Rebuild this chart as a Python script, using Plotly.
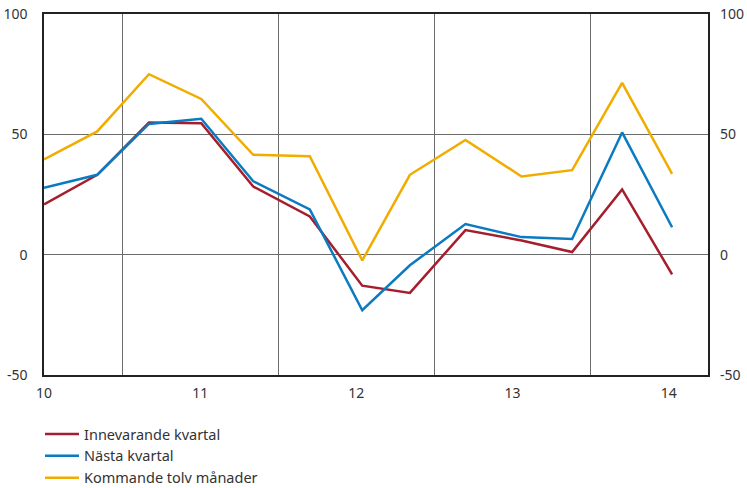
import plotly.graph_objects as go

# Survey dates as fractional years (10 = start of 2010), roughly every four months
periods = [10.0, 10.341, 10.672, 11.007, 11.340, 11.702, 12.038,
           12.343, 12.699, 13.058, 13.382, 13.702, 14.022]
year_ticks = [10, 11, 12, 13, 14]
year_labels = ["10", "11", "12", "13", "14"]
year_bounds = [10.5, 11.5, 12.5, 13.5]
value_ticks = [-50, 0, 50, 100]
value_labels = ["-50", "0", "50", "100"]

innevarande = [20.9, 33.2, 54.9, 54.6, 28.3, 15.9, -12.9, -15.9, 10.2, 5.9, 1.1, 27.1, -8.2]
nasta = [27.8, 33.2, 54.3, 56.5, 30.5, 18.8, -23.1, -4.4, 12.7, 7.3, 6.5, 50.8, 11.4]
kommande = [39.6, 51.2, 75.0, 64.7, 41.5, 40.9, -2.4, 33.2, 47.7, 32.5, 35.1, 71.4, 33.6]

series = [
    ("Innevarande kvartal", innevarande, "#a51e2d"),
    ("Nästa kvartal", nasta, "#0a7bc1"),
    ("Kommande tolv månader", kommande, "#f0ad00"),
]

y_range = [-50, 100]
x_range = [10, 14.252]

fig = go.Figure()
for name, values, color in series:
    fig.add_trace(go.Scatter(
        x=periods, y=values, name=name, mode="lines",
        line=dict(color=color, width=2.5),
    ))

# invisible trace so the right-hand axis is drawn
fig.add_trace(go.Scatter(
    x=periods, y=kommande, yaxis="y2", mode="lines",
    line=dict(width=0), hoverinfo="skip", showlegend=False, opacity=0,
))

font = dict(family="Noto Sans, Open Sans, sans-serif", size=14, color="#333333")
grid = "#6b6b6b"

fig.update_layout(
    width=747, height=488,
    margin=dict(l=44, r=39, t=14, b=113, autoexpand=False),
    plot_bgcolor="white", paper_bgcolor="white",
    font=font,
    showlegend=True,
    legend=dict(
        xref="container", yref="container",
        x=40 / 747, y=1 - 418 / 488, xanchor="left", yanchor="top",
        orientation="v", font=dict(font, size=14.5), tracegroupgap=0,
        itemwidth=34, bgcolor="rgba(0,0,0,0)",
    ),
    xaxis=dict(
        range=x_range, tickvals=year_ticks, ticktext=year_labels,
        showgrid=False, zeroline=False, automargin=False,
        showline=True, linecolor="#222222", linewidth=1.5, mirror=True,
        ticks="", ticklabelstandoff=4,
        minor=dict(tickvals=year_bounds, showgrid=True,
                   gridcolor=grid, gridwidth=1.3, ticks=""),
    ),
    yaxis=dict(
        range=y_range, tickvals=value_ticks, ticktext=value_labels,
        showgrid=True, gridcolor=grid, gridwidth=1.3,
        zeroline=False, automargin=False,
        showline=True, linecolor="#222222", linewidth=1.5, mirror=True,
        ticks="", ticklabelstandoff=12,
    ),
    yaxis2=dict(
        range=y_range, tickvals=value_ticks, ticktext=value_labels,
        overlaying="y", side="right", automargin=False,
        showgrid=False, zeroline=False, showline=False,
        ticks="", ticklabelstandoff=11,
    ),
)

fig.write_html("out.html")
